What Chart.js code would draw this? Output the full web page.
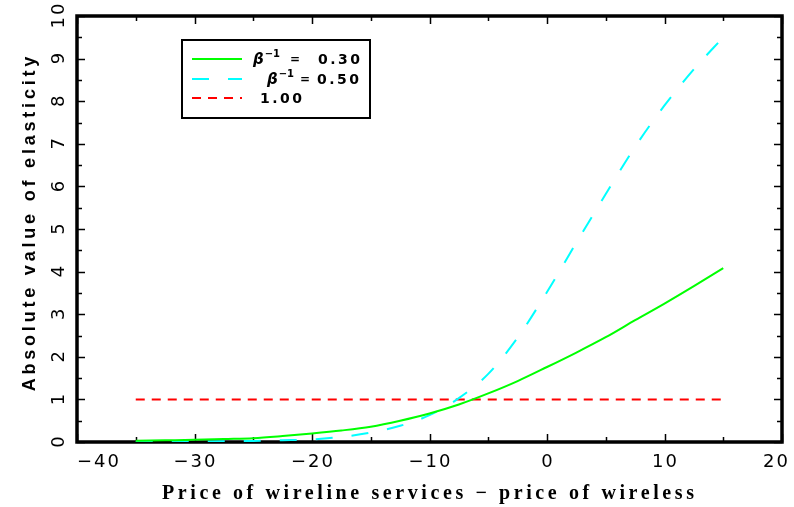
<!DOCTYPE html>
<html>
<head>
<meta charset="utf-8">
<script src="https://cdn.jsdelivr.net/npm/chart.js@4/dist/chart.umd.min.js"></script>
<style>
  html, body { margin: 0; padding: 0; background: #ffffff; }
  #wrap { width: 794px; height: 507px; }
</style>
</head>
<body>
<div id="wrap"><canvas id="c" width="794" height="507"></canvas></div>
<script>
// Price of wireline services minus price of wireless
const priceDiff = [-35, -32.5, -30, -27.5, -25, -22.5, -20, -17.5, -15, -12.5, -10,
                   -7.5, -5, -2.5, 0, 2.5, 5, 7.5, 10, 12.5, 15];
// Absolute value of elasticity, beta^-1 = 0.30
const elasticity030 = [0.03, 0.04, 0.05, 0.07, 0.09, 0.14, 0.20, 0.27, 0.36, 0.50, 0.67,
                       0.88, 1.14, 1.43, 1.76, 2.10, 2.46, 2.86, 3.25, 3.66, 4.08];
// Absolute value of elasticity, beta^-1 = 0.50
const elasticity050 = [0.00, 0.005, 0.01, 0.015, 0.025, 0.04, 0.06, 0.12, 0.22, 0.38, 0.63,
                       1.03, 1.60, 2.45, 3.52, 4.68, 5.82, 6.93, 7.90, 8.75, 9.50];
// Unit-elasticity reference line
const unitX = [-35, 15];
const unitY = [1.00, 1.00];

// Legend text
const legendPrefix = ['\u03B2', '\u03B2', ''];
const legendValues = ['0.30', '0.50', '1.00'];

// Axis ticks and titles
const xTickValues = [-40, -30, -20, -10, 0, 10, 20];
const yTickValues = [0, 1, 2, 3, 4, 5, 6, 7, 8, 9, 10];
const xTitle = 'Price of wireline services \u2212 price of wireless';
const yTitle = 'Absolute value of elasticity';

const toPoints = (xs, ys) => xs.map((x, i) => ({ x: x, y: ys[i] }));
const fmtTick = v => String(v).replace('-', '\u2212');

// Box around the plot with inward-pointing ticks on all four sides
const framePlugin = {
  id: 'frame',
  beforeDatasetsDraw(chart) {
    const { ctx, chartArea: a, scales: { x, y } } = chart;
    ctx.save();
    ctx.strokeStyle = '#000';
    ctx.lineWidth = 1.5;
    for (let v = x.min; v <= x.max + 1e-9; v += 5) {
      const px = Math.round(x.getPixelForValue(v)) + 0.5;
      const len = (Math.abs(v % 10) < 1e-9) ? 8 : 5;
      ctx.beginPath();
      ctx.moveTo(px, a.bottom); ctx.lineTo(px, a.bottom - len);
      ctx.moveTo(px, a.top); ctx.lineTo(px, a.top + len);
      ctx.stroke();
    }
    for (let v = y.min; v <= y.max + 1e-9; v += 0.5) {
      const py = Math.round(y.getPixelForValue(v)) + 0.5;
      const len = (Math.abs(v % 1) < 1e-9) ? 8 : 5;
      ctx.beginPath();
      ctx.moveTo(a.left, py); ctx.lineTo(a.left + len, py);
      ctx.moveTo(a.right, py); ctx.lineTo(a.right - len, py);
      ctx.stroke();
    }
    ctx.lineWidth = 3.5;
    ctx.strokeRect(a.left, a.top, a.right - a.left, a.bottom - a.top);
    ctx.restore();
  }
};

// Tick labels: x labels kept inside the frame ends, y labels rotated
const tickLabelPlugin = {
  id: 'tickLabels',
  afterDraw(chart) {
    const { ctx, chartArea: a, scales: { x, y } } = chart;
    ctx.save();
    ctx.fillStyle = '#000';
    ctx.font = '18px "DejaVu Sans"';
    ctx.letterSpacing = '2px';
    ctx.textBaseline = 'middle';
    ctx.textAlign = 'left';
    x.ticks.forEach(t => {
      const s = fmtTick(t.value);
      const w = ctx.measureText(s).width - 2;
      let left = x.getPixelForValue(t.value) - w / 2;
      left = Math.max(left, a.left);
      left = Math.min(left, a.right + 6 - w);
      ctx.fillText(s, left, 462);
    });
    y.ticks.forEach(t => {
      const s = fmtTick(t.value);
      const w = ctx.measureText(s).width - 2;
      ctx.save();
      ctx.translate(59, y.getPixelForValue(t.value));
      ctx.rotate(-Math.PI / 2);
      ctx.fillText(s, -w / 2, 0);
      ctx.restore();
    });
    ctx.restore();
  }
};

// Axis titles with wide letter spacing
const titlePlugin = {
  id: 'titles',
  afterDraw(chart) {
    const { ctx, chartArea: a } = chart;
    ctx.save();
    ctx.fillStyle = '#000';
    ctx.textAlign = 'left';
    ctx.textBaseline = 'middle';
    ctx.letterSpacing = '3.6px';
    ctx.font = 'bold 20px "Liberation Serif"';
    let w = ctx.measureText(xTitle).width - 3.6;
    ctx.fillText(xTitle, 428 - w / 2, 494);
    ctx.translate(30, (a.top + a.bottom) / 2);
    ctx.rotate(-Math.PI / 2);
    ctx.letterSpacing = '3.8px';
    ctx.font = 'bold 18px "Liberation Sans"';
    w = ctx.measureText(yTitle).width - 3.8;
    ctx.fillText(yTitle, -w / 2 + 5, 0);
    ctx.restore();
  }
};

// Boxed legend in the upper-left part of the plot
const legendPlugin = {
  id: 'boxLegend',
  afterDraw(chart) {
    const { ctx, chartArea: a } = chart;
    const bx = a.left + 105, by = a.top + 24, bw = 188, bh = 78;
    ctx.save();
    ctx.fillStyle = '#fff';
    ctx.fillRect(bx, by, bw, bh);
    ctx.strokeStyle = '#000';
    ctx.lineWidth = 2;
    ctx.strokeRect(bx, by, bw, bh);
    const rowY = [by + 19, by + 39, by + 58];
    const prefixX = [bx + 71, bx + 85, 0];
    const eqX = [bx + 108, bx + 118, 0];
    const valueX = [bx + 136, bx + 135, bx + 78];
    chart.data.datasets.forEach((ds, i) => {
      ctx.save();
      ctx.strokeStyle = ds.borderColor;
      ctx.lineWidth = ds.borderWidth;
      ctx.setLineDash(ds.borderDash || []);
      ctx.beginPath();
      ctx.moveTo(bx + 10, rowY[i]);
      ctx.lineTo(bx + 60, rowY[i]);
      ctx.stroke();
      ctx.restore();
      ctx.fillStyle = '#000';
      ctx.textBaseline = 'middle';
      ctx.textAlign = 'left';
      if (legendPrefix[i]) {
        let px = prefixX[i];
        ctx.letterSpacing = '0px';
        ctx.font = 'bold italic 15px "DejaVu Sans"';
        ctx.fillText(legendPrefix[i], px, rowY[i] + 1);
        px += ctx.measureText(legendPrefix[i]).width + 1;
        ctx.font = 'bold 10px "DejaVu Sans"';
        ctx.fillText('\u22121', px, rowY[i] - 5);
        ctx.font = 'bold 12px "DejaVu Sans"';
        ctx.fillText('=', eqX[i], rowY[i] + 1);
      }
      ctx.letterSpacing = '2.5px';
      ctx.font = 'bold 14px "DejaVu Sans"';
      ctx.fillText(legendValues[i], valueX[i], rowY[i] + 1);
    });
    ctx.restore();
  }
};

new Chart(document.getElementById('c'), {
  type: 'line',
  data: {
    datasets: [
      {
        label: 'beta^-1 = 0.30',
        data: toPoints(priceDiff, elasticity030),
        borderColor: '#00ff00',
        borderWidth: 2,
        pointRadius: 0,
        cubicInterpolationMode: 'monotone',
        fill: false
      },
      {
        label: 'beta^-1 = 0.50',
        data: toPoints(priceDiff, elasticity050),
        borderColor: '#00ffff',
        borderWidth: 2,
        borderDash: [17, 19],
        pointRadius: 0,
        cubicInterpolationMode: 'monotone',
        fill: false
      },
      {
        label: '1.00',
        data: toPoints(unitX, unitY),
        borderColor: '#ff0000',
        borderWidth: 2,
        borderDash: [9, 7],
        pointRadius: 0,
        fill: false
      }
    ]
  },
  options: {
    responsive: false,
    animation: false,
    devicePixelRatio: 1,
    layout: { padding: { top: 16, right: 12, left: 0, bottom: 0 } },
    plugins: { legend: { display: false }, tooltip: { enabled: false } },
    scales: {
      x: {
        type: 'linear',
        min: -40, max: 20,
        afterBuildTicks: s => { s.ticks = xTickValues.map(v => ({ value: v })); },
        afterFit: s => { s.height = 65; },
        grid: { display: false, drawTicks: false },
        border: { display: false },
        ticks: { display: false }
      },
      y: {
        type: 'linear',
        min: 0, max: 10,
        afterBuildTicks: s => { s.ticks = yTickValues.map(v => ({ value: v })); },
        afterFit: s => { s.width = 77; },
        grid: { display: false, drawTicks: false },
        border: { display: false },
        ticks: { display: false }
      }
    }
  },
  plugins: [framePlugin, tickLabelPlugin, titlePlugin, legendPlugin]
});
</script>
</body>
</html>
